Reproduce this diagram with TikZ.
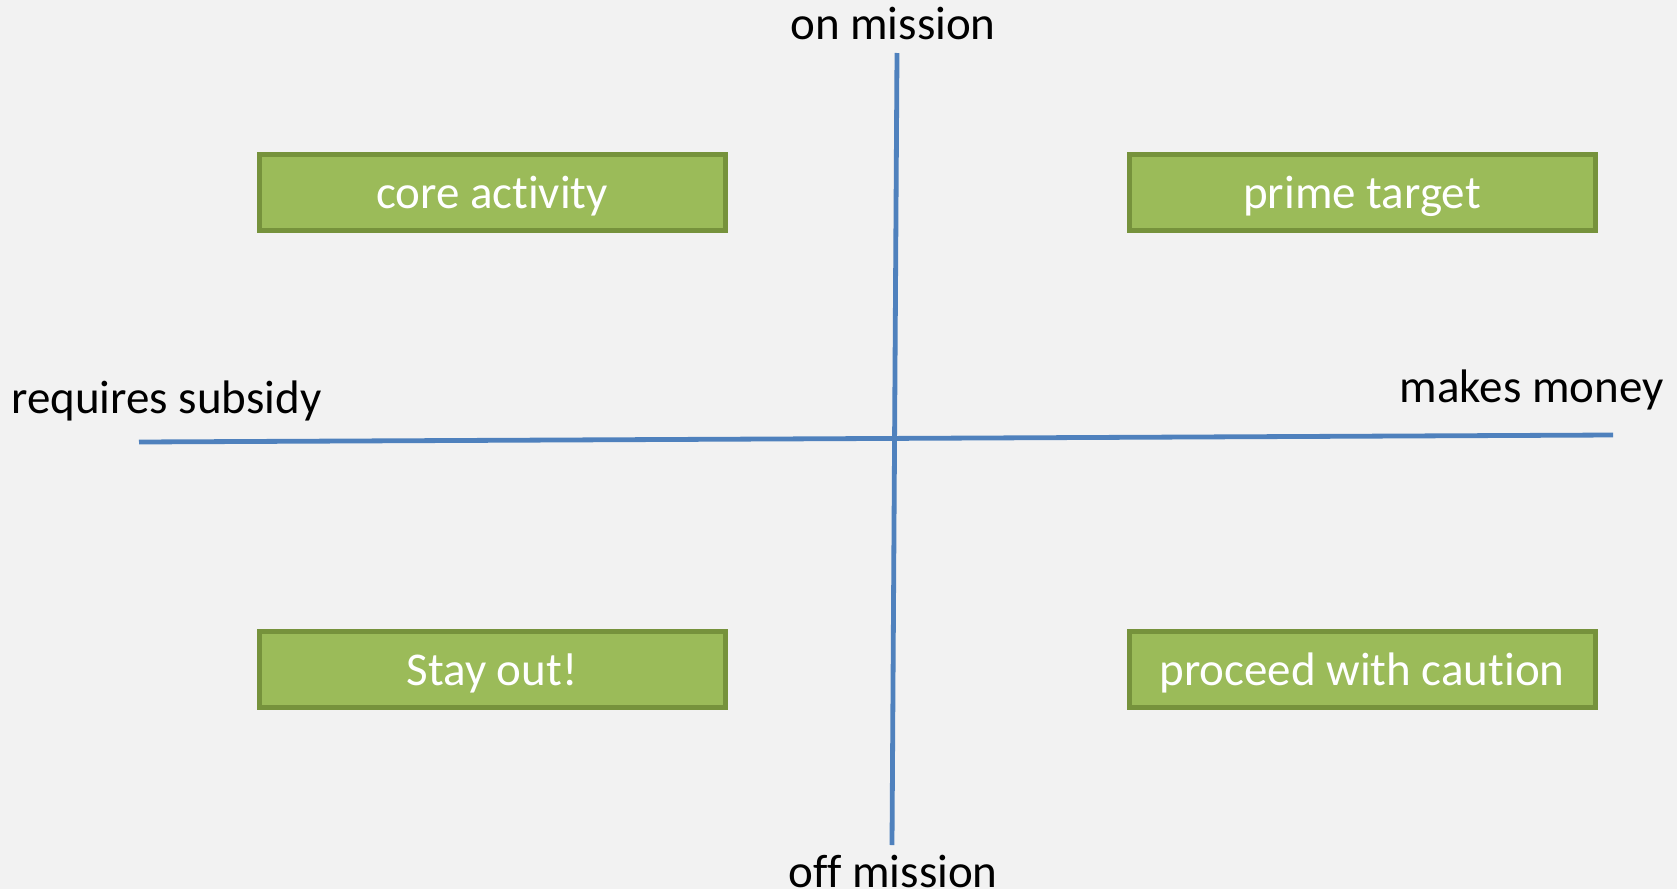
\documentclass[tikz,border=0pt]{standalone}
\usepackage{fontspec}
\setmainfont{Carlito}[RawFeature={-liga,-calt,-dlig,-clig}]
\usetikzlibrary{positioning}
\definecolor{pagebg}{HTML}{F2F2F2}
\definecolor{boxfill}{HTML}{9BBB59}
\definecolor{boxline}{HTML}{76923C}
\definecolor{axisblue}{HTML}{4F81BD}
% break the ti / ff ligatures of Carlito
\newcommand{\nolig}{\kern0pt}
\tikzset{
    quadnode/.style={
        draw=boxline,line width=2.5pt,fill=boxfill,text=white,minimum width=233pt,minimum height=38pt,inner sep=0pt,text height=18pt,text depth=2pt
    },
    axislabel/.style={
        text=black,inner sep=0pt
    },
    axisline/.style={
        draw=axisblue,line width=2.4pt
    }
}

\begin{document}
\begin{tikzpicture}[x=0.5pt,y=-0.5pt,font=\fontsize{23.5}{28}\selectfont]
\fill[pagebg] (0,0) rectangle (1677,889);
\useasboundingbox (0,0) rectangle (1677,889);
\coordinate (top) at (897,53);
\coordinate (bottom) at (892,845);
\coordinate (left) at (139,442);
\coordinate (right) at (1613,435);
\draw[axisline] (left) -- (right);
\draw[axisline] (top) -- (bottom);
\node[quadnode] (core) at (492,192) {core act\nolig ivity};
\node[quadnode,right=199.5pt of core] (prime) {prime target};
\node[quadnode,below=198pt of core] (stay) {Stay out!};
\node[quadnode,below=198pt of prime] (caution) {proceed with caut\nolig ion};
\node[axislabel,anchor=base] (on) at (893,39) {on mission};
\node[axislabel,anchor=base] (off) at (893,887) {of\nolig f mission};
\node[axislabel,anchor=base west] (subsidy) at (11,413) {requires subsidy};
\node[axislabel,anchor=base east] (money) at (1664,402) {makes money};
\end{tikzpicture}
\end{document}
